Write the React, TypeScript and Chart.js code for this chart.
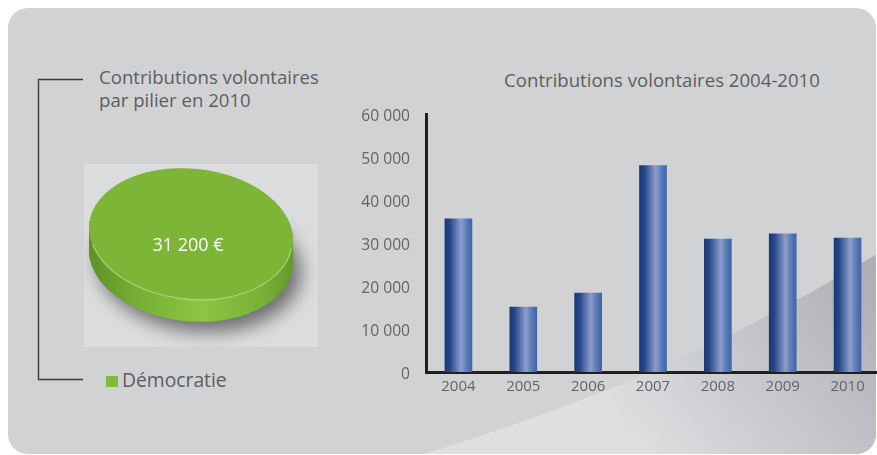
import { useEffect, useRef } from 'react';
import { Chart, registerables } from 'chart.js';

Chart.register(...registerables);

// ---- data ----
const years = ['2004', '2005', '2006', '2007', '2008', '2009', '2010'];
const contributions = [35700, 15100, 18400, 48100, 31000, 32200, 31200];
const yMin = 0;
const yMax = 60000;
const yStep = 10000;
const pillarLabels = ['Démocratie'];
const pillarValues = [31200];
const barTitle = 'Contributions volontaires 2004-2010';
const pieTitle = ['Contributions volontaires', 'par pilier en 2010'];

const FONT = '"Open Sans", "DejaVu Sans", sans-serif';
const TEXT = '#5d5e60';
const fmt = (v: number) => String(v).replace(/\B(?=(\d{3})+(?!\d))/g, ' ');

const BAR_W = 27;

function barGradient(c: any) {
  const chart = c.chart;
  if (c.type !== 'data' || !chart.chartArea) return '#2d4f92';
  const x = chart.scales.x.getPixelForValue(c.dataIndex);
  const g = chart.ctx.createLinearGradient(x - BAR_W / 2, 0, x + BAR_W / 2, 0);
  g.addColorStop(0, '#183878');
  g.addColorStop(0.18, '#244789');
  g.addColorStop(0.42, '#5f78b2');
  g.addColorStop(0.6, '#8e9dca');
  g.addColorStop(0.78, '#607fbb');
  g.addColorStop(1, '#3f64a8');
  return g;
}

function BarChart() {
  const ref = useRef<HTMLCanvasElement>(null);
  useEffect(() => {
    const canvas = ref.current!;
    const chart = new Chart(canvas, {
      type: 'bar',
      data: {
        labels: years,
        datasets: [
          {
            data: contributions,
            backgroundColor: barGradient as any,
            borderWidth: 0,
            barThickness: BAR_W,
          },
        ],
      },
      options: {
        responsive: false,
        animation: false,
        layout: { padding: { top: 54.5, right: 10, left: 0, bottom: 0 } },
        plugins: {
          legend: { display: false },
          tooltip: { enabled: false },
          title: { display: false },
        },
        scales: {
          x: {
            z: 1,
            grid: { display: false, drawTicks: false },
            border: { display: true, color: '#231f20', width: 3 },
            ticks: { color: '#636466', font: { family: FONT, size: 15 }, padding: 6 },
            afterFit: (s: any) => {
              s.height = 33;
            },
          },
          y: {
            z: 1,
            min: yMin,
            max: yMax,
            grid: { display: false, drawTicks: false },
            border: { display: true, color: '#231f20', width: 3 },
            ticks: {
              stepSize: yStep,
              color: '#636466',
              font: { family: FONT, size: 15.6 },
              padding: 16,
              labelOffset: 2.5,
              callback: (v: any) => fmt(Number(v)),
            },
            afterFit: (s: any) => {
              s.width = 76;
            },
          },
        },
      },
    });
    return () => chart.destroy();
  }, []);
  return (
    <canvas
      ref={ref}
      width={540}
      height={345}
      style={{ position: 'absolute', left: 350, top: 60, width: 540, height: 345 }}
    />
  );
}

function PieChart() {
  const ref = useRef<HTMLCanvasElement>(null);
  useEffect(() => {
    const canvas = ref.current!;
    const sx = 1.55;
    const sy = 0.99;
    const rot = 0.1;
    const depth = 22;
    const tilt = {
      id: 'tilt3d',
      beforeDatasetsDraw(chart: any) {
        const arc = chart.getDatasetMeta(0).data[0];
        if (!arc) return;
        const { x, y, outerRadius } = arc.getProps(['x', 'y', 'outerRadius'], true);
        const a = outerRadius * sx;
        const b = outerRadius * sy;
        const ctx = chart.ctx as CanvasRenderingContext2D;
        ctx.save();
        ctx.shadowColor = 'rgba(0,0,0,0.5)';
        ctx.shadowBlur = 18;
        ctx.shadowOffsetX = 8;
        ctx.shadowOffsetY = 10;
        ctx.beginPath();
        ctx.ellipse(x, y + depth, a, b, rot, 0, Math.PI * 2);
        ctx.fillStyle = '#6a9f2d';
        ctx.fill();
        ctx.restore();
        ctx.save();
        const g = ctx.createLinearGradient(x - a, 0, x + a, 0);
        g.addColorStop(0, '#5e9126');
        g.addColorStop(0.25, '#78b034');
        g.addColorStop(0.55, '#8cc641');
        g.addColorStop(0.85, '#79b136');
        g.addColorStop(1, '#64992a');
        for (let d = depth; d >= 1; d--) {
          ctx.beginPath();
          ctx.ellipse(x, y + d, a, b, rot, 0, Math.PI * 2);
          ctx.fillStyle = g;
          ctx.fill();
        }
        ctx.restore();
        ctx.save();
        ctx.translate(x, y);
        ctx.rotate(rot);
        ctx.scale(sx, sy);
        ctx.translate(-x, -y);
      },
      afterDatasetsDraw(chart: any) {
        const arc = chart.getDatasetMeta(0).data[0];
        if (!arc) return;
        const ctx = chart.ctx as CanvasRenderingContext2D;
        ctx.restore();
        const { x, y, outerRadius } = arc.getProps(['x', 'y', 'outerRadius'], true);
        ctx.save();
        ctx.beginPath();
        ctx.ellipse(x, y + 1, outerRadius * sx - 1, outerRadius * sy - 1, rot, 0.05, Math.PI - 0.3);
        ctx.strokeStyle = 'rgba(255,255,255,0.35)';
        ctx.lineWidth = 1.2;
        ctx.stroke();
        ctx.fillStyle = '#ffffff';
        ctx.font = `18px ${FONT}`;
        ctx.textAlign = 'center';
        ctx.textBaseline = 'middle';
        const v = chart.data.datasets[0].data[0] as number;
        ctx.fillText(`${fmt(v)} €`, x - 3, y + 12);
        ctx.restore();
      },
    };
    const chart = new Chart(canvas, {
      type: 'pie',
      data: {
        labels: pillarLabels,
        datasets: [
          {
            data: pillarValues,
            backgroundColor: ['#7db537'],
            borderWidth: 0,
            clip: false as any,
          },
        ],
      },
      options: {
        responsive: false,
        animation: false,
        layout: { padding: { left: 41, right: 61, top: 4, bottom: 47 } },
        plugins: { legend: { display: false }, tooltip: { enabled: false } },
      },
      plugins: [tilt],
    });
    return () => chart.destroy();
  }, []);
  return (
    <canvas
      ref={ref}
      width={234}
      height={183}
      style={{ position: 'absolute', left: 84, top: 164, width: 234, height: 183, background: '#dbdcde' }}
    />
  );
}

export default function App() {
  return (
    <div
      style={{
        position: 'absolute',
        left: 0,
        top: 0,
        width: 877,
        height: 455,
        overflow: 'hidden',
        background: '#ffffff',
        fontFamily: FONT,
      }}
    >
      <svg width={877} height={455} style={{ position: 'absolute', left: 0, top: 0 }}>
        <defs>
          <clipPath id="panelClip">
            <rect x={8} y={8} width={868} height={446} rx={20} />
          </clipPath>
          <linearGradient id="swoosh" x1={870} y1={270} x2={640} y2={455} gradientUnits="userSpaceOnUse">
            <stop offset="0" stopColor="#aeafb3" />
            <stop offset="0.5" stopColor="#c6c7ca" />
            <stop offset="1" stopColor="#dedfe1" />
          </linearGradient>
        </defs>
        <rect x={8} y={8} width={868} height={446} rx={20} fill="#d1d2d4" />
        <path d="M 880 252 C 760 325 620 395 420 455 L 880 455 Z" fill="url(#swoosh)" clipPath="url(#panelClip)" />
        <polyline points="83,79.5 38.5,79.5 38.5,379.5 83,379.5" fill="none" stroke="#3a3a3c" strokeWidth={1.4} />
      </svg>
      <div
        style={{
          position: 'absolute',
          left: 99,
          top: 65,
          fontSize: 18.6,
          lineHeight: '23px',
          color: TEXT,
          whiteSpace: 'nowrap',
        }}
      >
        {pieTitle.map((t) => (
          <div key={t}>{t}</div>
        ))}
      </div>
      <PieChart />
      {pillarLabels.map((l) => (
        <div key={l}>
          <div style={{ position: 'absolute', left: 106, top: 376, width: 12, height: 11, background: '#80bd3a' }} />
          <div
            style={{
              position: 'absolute',
              left: 122,
              top: 368,
              fontSize: 19.3,
              lineHeight: '23px',
              color: TEXT,
              whiteSpace: 'nowrap',
            }}
          >
            {l}
          </div>
        </div>
      ))}
      <div
        style={{
          position: 'absolute',
          left: 662,
          top: 68,
          transform: 'translateX(-50%)',
          fontSize: 18.6,
          lineHeight: '23px',
          color: TEXT,
          whiteSpace: 'nowrap',
        }}
      >
        {barTitle}
      </div>
      <BarChart />
    </div>
  );
}
